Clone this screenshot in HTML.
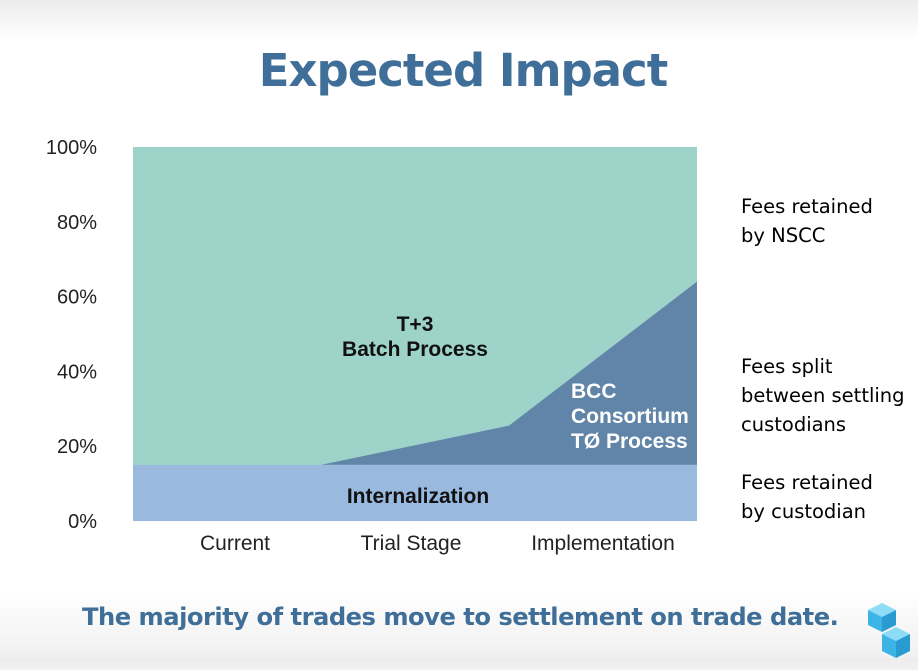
<!DOCTYPE html>
<html><head><meta charset="utf-8"><style>
body{margin:0;width:918px;height:658px;overflow:hidden;font-family:"Liberation Sans",sans-serif;background:linear-gradient(#ececec 0px,#fff 40px,#fff 590px,#f0f0f0 658px);position:relative}
.t{position:absolute;white-space:nowrap}
</style></head><body>
<div class="t" style="left:0;width:926px;text-align:center;top:44px;font-size:45px;font-weight:bold;color:#3f6f98;font-family:'DejaVu Sans',sans-serif;letter-spacing:-1px">Expected Impact</div>
<svg id="c" width="918" height="658" style="position:absolute;left:0;top:0"></svg>
<div class="t" style="left:741px;top:192px;font-size:19.5px;line-height:29px;font-family:'DejaVu Sans',sans-serif">Fees retained<br>by NSCC</div>
<div class="t" style="left:741px;top:352px;font-size:19.5px;line-height:29px;font-family:'DejaVu Sans',sans-serif">Fees split<br>between settling<br>custodians</div>
<div class="t" style="left:741px;top:468px;font-size:19.5px;line-height:29px;font-family:'DejaVu Sans',sans-serif">Fees retained<br>by custodian</div>
<div class="t" style="left:82px;top:603px;font-size:24.2px;font-weight:bold;color:#3f6f98;font-family:'DejaVu Sans',sans-serif;letter-spacing:-0.5px">The majority of trades move to settlement on trade date.</div>
<svg width="60" height="70" style="position:absolute;left:860px;top:600px">
<polygon points="8,10 22,3 36,10 22,17" fill="#8fdcf7"/><polygon points="8,10 22,17 22,32 8,25" fill="#3cb4e6"/><polygon points="22,17 36,10 36,25 22,32" fill="#2a9bd0"/>
<polygon points="22,34 36,27 50,34 36,41" fill="#8fdcf7"/><polygon points="22,34 36,41 36,58 22,51" fill="#3cb4e6"/><polygon points="36,41 50,34 50,51 36,58" fill="#2a9bd0"/>
</svg>
<script>
const categories=["Current","Trial Stage","Implementation"];
const boundaries=[0,1,2,3];
const internalization=[15,15,15,15];
const bcc=[0,0,10.5,49];
const yTicks=[0,20,40,60,80,100];
const x0=133,x1=697,y0=521,y1=147;
const X=i=>x0+(x1-x0)*i/3, Y=v=>y0-(y0-y1)*v/100;
const s=document.getElementById('c'),NS="http://www.w3.org/2000/svg";
function mk(t,a){const e=document.createElementNS(NS,t);for(const k in a)e.setAttribute(k,a[k]);s.appendChild(e);return e;}
let e=mk('rect',{x:x0,y:Y(100),width:x1-x0,height:Y(0)-Y(100),fill:'#9dd3c9'});


const topPts=boundaries.map((b,i)=>X(b)+','+Y(internalization[i]+bcc[i]));
const botPts=boundaries.map((b,i)=>X(b)+','+Y(internalization[i])).reverse();
e=mk('polygon',{points:topPts.concat(botPts).join(' '),fill:'#6185a8'});


const ip=boundaries.map((b,i)=>X(b)+','+Y(internalization[i])).concat([X(3)+','+Y(0),X(0)+','+Y(0)]);
e=mk('polygon',{points:ip.join(' '),fill:'#99b9df'});


yTicks.forEach(v=>{const t=mk('text',{x:97,y:Y(v)+7,'text-anchor':'end','font-size':20,fill:'#222'});t.textContent=v+'%';

});
categories.forEach((c,i)=>{const t=mk('text',{x:X(i+0.5)+(i==0?8:(i==1?-4:0)),y:550,'text-anchor':'middle','font-size':21,fill:'#222'});t.textContent=c;

});
function lab(txt,x,y,col,name,anchor){const t=mk('text',{x:x,y:y,'text-anchor':anchor||'middle','font-size':21,'font-weight':'bold',fill:col});t.textContent=txt;

}
lab('T+3',415,331,'#111','batch-label');lab('Batch Process',415,356,'#111','batch-label');
lab('Internalization',418,503,'#111','internalization-label');
lab('BCC',571,398,'#fff','bcc-label','start');lab('Consortium',571,423,'#fff','bcc-label','start');lab('TØ Process',571,448,'#fff','bcc-label','start');
</script>
</body></html>
